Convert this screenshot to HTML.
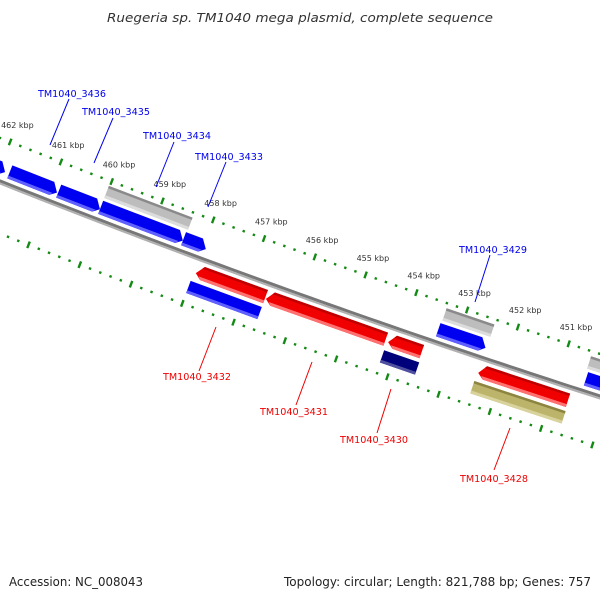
<!DOCTYPE html>
<html><head><meta charset="utf-8"><style>
html,body{margin:0;padding:0;background:#fff;width:600px;height:600px;overflow:hidden}
svg{display:block}
text{font-family:"DejaVu Sans","Liberation Sans",sans-serif}
</style></head><body>
<svg id="s" width="600" height="600" xmlns="http://www.w3.org/2000/svg">
<text x="300" y="22" font-size="12" font-style="italic" text-anchor="middle" fill="#333" textLength="386" lengthAdjust="spacingAndGlyphs">Ruegeria sp. TM1040 mega plasmid, complete sequence</text>
<text x="9" y="586" font-size="12" fill="#222" textLength="134" lengthAdjust="spacingAndGlyphs">Accession: NC_008043</text>
<text x="284" y="586" font-size="12" fill="#222" textLength="307" lengthAdjust="spacingAndGlyphs">Topology: circular; Length: 821,788 bp; Genes: 757</text>
<g id="g"></g>
</svg>
<script>
var R=9500,Ax=0,Ay=182,Bx=600,By=397;
var dx=Bx-Ax,dy=By-Ay,L=Math.sqrt(dx*dx+dy*dy),mx=(Ax+Bx)/2,my=(Ay+By)/2;
var nx=dy/L,ny=-dx/L,h=Math.sqrt(R*R-L*L/4);
var Cx=mx+nx*h,Cy=my+ny*h;
function P(s,v){var c=(s-Cx)/R;var ph=Math.acos(c);var r=R+v;return [Cx+r*Math.cos(ph),Cy+r*Math.sin(ph)];}
function pts(a){return a.map(function(p){return p[0].toFixed(2)+','+p[1].toFixed(2)}).join(' ');}
var out='';
function poly(a,f){out+='<polygon points="'+pts(a)+'" fill="'+f+'"/>';}
function line(p,q,c,w){out+='<line x1="'+p[0].toFixed(2)+'" y1="'+p[1].toFixed(2)+'" x2="'+q[0].toFixed(2)+'" y2="'+q[1].toFixed(2)+'" stroke="'+c+'" stroke-width="'+w+'"/>';}
var bb=[];
for(var s=-20;s<=640;s+=10){bb.push(P(s,-2.5));}
for(var s=640;s>=-20;s-=10){bb.push(P(s,0.5));}
poly(bb,'#777');
var bl=[];
for(var s=-20;s<=640;s+=10){bl.push(P(s,0.5));}
for(var s=640;s>=-20;s-=10){bl.push(P(s,2.5));}
poly(bl,'#b0b0b0');
for(var n=-3;n<=12;n++){
  var s0=97+n*51;
  [-41,48].forEach(function(v){
    var a=P(s0,v-3.5),b=P(s0,v+3.5);line(a,b,'#138a13',2.4);
    for(var m=1;m<5;m++){var sm=s0+m*10.2;line(P(sm,v-1.2),P(sm,v+1.2),'#138a13',2.4);}
  });
  var k=460-n;
  if(k>=451&&k<=462){var t=P(s0,-41);out+='<text x="'+(t[0]-9).toFixed(1)+'" y="'+(t[1]-14).toFixed(1)+'" font-size="8" fill="#333">'+k+' kbp</text>';}
}
function gene(s1,s2,v1,v2,dir,col,dark,light){
  var a=6,vm=(v1+v2)/2,A;
  if(dir>0)A=[P(s1,v1),P(s2-a,v1),P(s2,vm+2),P(s2-a,v2),P(s1,v2)];
  else if(dir<0)A=[P(s1+a,v1),P(s2,v1),P(s2,v2),P(s1+a,v2),P(s1,vm+2)];
  else A=[P(s1,v1),P(s2,v1),P(s2,v2),P(s1,v2)];
  poly(A,col);
  var b1=v2-3,B;
  if(dir>0)B=[P(s1,b1),P(s2-a+ (a*(b1-vm-2)/(v2-vm-2)),b1),P(s2-a,v2),P(s1,v2)];
  else if(dir<0)B=[P(s1+a-(a*(b1-vm-2)/(v2-vm-2)),b1),P(s2,b1),P(s2,v2),P(s1+a,v2)];
  else B=[P(s1,b1),P(s2,b1),P(s2,v2),P(s1,v2)];
  poly(B,light);
  if(dark){var t1=v1+2.5,T;
    if(dir<0)T=[P(s1+a,v1),P(s2,v1),P(s2,t1),P(s1+a-(a*(t1-v1)/(vm+2-v1)),t1)];
    else if(dir>0)T=[P(s1,v1),P(s2-a,v1),P(s2-a+(a*(t1-v1)/(vm+2-v1)),t1),P(s1,t1)];
    else T=[P(s1,v1),P(s2,v1),P(s2,t1),P(s1,t1)];
    poly(T,dark);}
}
var BL='#0000f0',BLl='#6060ff';
gene(-40,1,-20,-6,1,BL,null,BLl);
gene(5,53,-20,-6,1,BL,null,BLl);
gene(54,96,-20,-6,1,BL,null,BLl);
gene(96,179,-20,-6,1,BL,null,BLl);
gene(179,202,-20,-6,1,BL,null,BLl);
gene(434,482,-20,-6,1,BL,null,BLl);
gene(582,660,-20,-6,1,BL,null,BLl);
gene(96,180,-36,-23,0,'#bdbdbd','#8a8a8a','#dcdcdc');
gene(435,483,-36,-23,0,'#bdbdbd','#8a8a8a','#dcdcdc');
gene(580,660,-36,-23,0,'#bdbdbd','#8a8a8a','#dcdcdc');
var RD='#f00000',RDd='#c00000',RDl='#ff7070';
gene(201,270,6,20,-1,RD,RDd,RDl);
gene(271,390,6,20,-1,RD,RDd,RDl);
gene(393,426,6,20,-1,RD,RDd,RDl);
gene(483,572,6,20,-1,RD,RDd,RDl);
gene(199,270,24,37,0,BL,null,BLl);
gene(392,427,24,37,0,'#00007a',null,'#5050a0');
gene(482,573,24,37,0,'#bdb46c','#8c8440','#d8d29c');
function lab(t,x,y,c,x1,y1,x2,y2){out+='<line x1="'+x1+'" y1="'+y1+'" x2="'+x2+'" y2="'+y2+'" stroke="'+c+'" stroke-width="1"/>';out+='<text x="'+x+'" y="'+y+'" font-size="10" fill="'+c+'" textLength="68" lengthAdjust="spacingAndGlyphs">'+t+'</text>';}
lab('TM1040_3436',38,97,'#0000ee',69,99,50,145);
lab('TM1040_3435',82,115,'#0000ee',113,118,94,163);
lab('TM1040_3434',143,139,'#0000ee',174,142,156,187);
lab('TM1040_3433',195,160,'#0000ee',226,162,208,207);
lab('TM1040_3429',459,253,'#0000ee',490,255,475,302);
lab('TM1040_3432',163,380,'#ee0000',216,327,199,371);
lab('TM1040_3431',260,415,'#ee0000',312,362,296,405);
lab('TM1040_3430',340,443,'#ee0000',391,389,377,433);
lab('TM1040_3428',460,482,'#ee0000',510,428,494,470);
document.getElementById('g').innerHTML=out;
</script>
</body></html>
